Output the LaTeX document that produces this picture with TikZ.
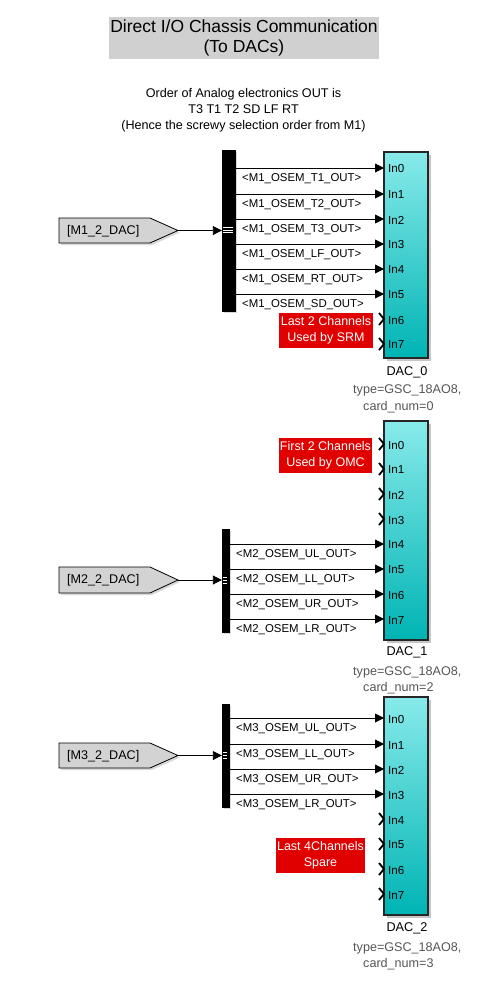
\documentclass[tikz,border=0pt]{standalone}
\usepackage{fontspec}
\setmainfont{Liberation Sans}
\usetikzlibrary{arrows.meta,shadows}
\definecolor{ttlgray}{HTML}{D0D0D0}
\definecolor{fromgray}{HTML}{D3D3D3}
\definecolor{cyantop}{HTML}{88EAEA}
\definecolor{cyanbot}{HTML}{00B4B4}
\definecolor{redbox}{HTML}{E00000}
\definecolor{typegray}{HTML}{555555}
\begin{document}
\begin{tikzpicture}[x=1pt,y=-1pt,
  sig/.style={draw=black, line width=0.9pt, -{Triangle[length=9pt,width=9pt]}},
  dac/.style={draw=black!85, line width=1.1pt, top color=cyantop, bottom color=cyanbot,
    minimum width=44pt, inner sep=0pt, drop shadow={shadow xshift=3pt, shadow yshift=-3pt, opacity=0.45}},
  busbar/.style={fill=black, draw=black, inner sep=0pt, drop shadow={shadow xshift=1.5pt, shadow yshift=-1.5pt, opacity=0.3}},
  fromshape/.style={draw=black, line width=0.8pt, fill=fromgray, drop shadow={shadow xshift=2pt, shadow yshift=-2pt, opacity=0.3}},
  fromtxt/.style={font=\fontsize{12.6}{14}\selectfont, anchor=west, inner sep=0pt},
  sigtxt/.style={font=\fontsize{11.4}{13}\selectfont, anchor=west, inner sep=0pt},
  porttxt/.style={font=\fontsize{11.6}{13}\selectfont, anchor=west, inner sep=0pt},
  redlbl/.style={fill=redbox, text=white, font=\fontsize{12.5}{16}\selectfont, align=center, inner sep=0pt},
  dacname/.style={font=\fontsize{12.7}{14}\selectfont, inner sep=0pt},
  dactype/.style={font=\fontsize{12.6}{14}\selectfont, text=typegray, anchor=west, inner sep=0pt},
  chev/.style={line width=1.8pt, line join=miter},
  wmark/.style={draw=white, line width=1pt}
]
\useasboundingbox (0,0) rectangle (502,994);

% Title
\node[fill=ttlgray, minimum width=270pt, minimum height=42pt, align=center, inner sep=0pt,
  font=\fontsize{17.5}{19.5}\selectfont] (title) at (244,38) {Direct I/O Chassis Communication\\(To DACs)};
\node[align=center, inner sep=0pt, font=\fontsize{12.6}{16.2}\selectfont] (note) at (243.5,110)
  {Order of Analog electronics OUT is\\T3 T1 T2 SD LF RT\\(Hence the screwy selection order from M1)};

% ================= DAC_0 =================
\node[dac, minimum height=206pt] (dac0) at (406,255) {};
\foreach \i/\y in {0/168,1/194,2/219,3/244,4/269,5/294,6/319,7/344}{
  \coordinate (d0p\i) at (384,\y);
  \node[porttxt] (d0l\i) at (388,\y+1) {In\i};
}
\node[dacname] (dac0n) at (407,372) {DAC\_0};
\node[dactype] (dac0t) at (353,390) {type=GSC\_18AO8,};
\node[dactype] (dac0c) at (363,407) {card\_num=0};

\node[busbar, minimum width=13pt, minimum height=161pt] (bus1) at (228.5,230.5) {};
\draw[fromshape] (59,218) -- (150,218) -- (178,230.5) -- (150,243) -- (59,243) -- cycle;
\coordinate (from1) at (178,230.5);
\node[fromtxt] (from1t) at (67,231) {[M1\_2\_DAC]};
\draw[sig] (from1) -- (bus1.west |- from1);
\draw[wmark] (223,227.6) -- (233,227.6) (223,230.2) -- (233,230.2) (223,232.8) -- (233,232.8);

\foreach \i/\t in {0/T1,1/T2,2/T3,3/LF,4/RT,5/SD}{
  \draw[sig] (bus1.east |- d0p\i) -- (d0p\i);
}
\foreach \i/\t/\y in {0/T1/168,1/T2/194,2/T3/219,3/LF/244,4/RT/269,5/SD/294}{
  \node[sigtxt] (s1\i) at (242,\y+11) {<M1\_OSEM\_\t\_OUT>};
}
\foreach \i in {6,7}{
  \draw[chev] ([xshift=-5pt,yshift=6pt]d0p\i) -- (d0p\i) -- ([xshift=-5pt,yshift=-6pt]d0p\i);
}
\node[redlbl, minimum width=94pt, minimum height=35pt] (red1) at (326,330.5) {Last 2 Channels\\Used by SRM};

% ================= DAC_1 =================
\node[dac, minimum height=219pt] (dac1) at (406,530.5) {};
\foreach \i/\y in {0/444,1/469,2/494,3/519,4/544,5/569,6/594,7/619}{
  \coordinate (d1p\i) at (384,\y);
  \node[porttxt] (d1l\i) at (388,\y+1) {In\i};
}
\node[dacname] (dac1n) at (407,652) {DAC\_1};
\node[dactype] (dac1t) at (353,672) {type=GSC\_18AO8,};
\node[dactype] (dac1c) at (363,688) {card\_num=2};

\foreach \i in {0,1,2,3}{
  \draw[chev] ([xshift=-5pt,yshift=6pt]d1p\i) -- (d1p\i) -- ([xshift=-5pt,yshift=-6pt]d1p\i);
}
\node[redlbl, minimum width=93pt, minimum height=35pt] (red2) at (325.5,455.5) {First 2 Channels\\Used by OMC};

\node[busbar, minimum width=7pt, minimum height=103pt] (bus2) at (225.5,580.5) {};
\draw[fromshape] (59,567) -- (150,567) -- (178,580) -- (150,593) -- (59,593) -- cycle;
\coordinate (from2) at (178,580);
\node[fromtxt] (from2t) at (67,580.5) {[M2\_2\_DAC]};
\draw[sig] (from2) -- (bus2.west |- from2);
\draw[wmark] (222.5,577) -- (227,577) (222.5,580) -- (227,580) (222.5,583) -- (227,583);

\foreach \i/\t/\y in {4/UL/544,5/LL/569,6/UR/594,7/LR/619}{
  \draw[sig] (bus2.east |- d1p\i) -- (d1p\i);
  \node[sigtxt] (s2\i) at (236,\y+10.5) {<M2\_OSEM\_\t\_OUT>};
}

% ================= DAC_2 =================
\node[dac, minimum height=218pt] (dac2) at (406,806) {};
\foreach \i/\y in {0/718,1/744,2/769,3/794,4/819,5/844,6/869,7/894}{
  \coordinate (d2p\i) at (384,\y);
  \node[porttxt] (d2l\i) at (388,\y+1) {In\i};
}
\node[dacname] (dac2n) at (407,928) {DAC\_2};
\node[dactype] (dac2t) at (353,948) {type=GSC\_18AO8,};
\node[dactype] (dac2c) at (363,964) {card\_num=3};

\node[busbar, minimum width=7pt, minimum height=103pt] (bus3) at (225.5,755.5) {};
\draw[fromshape] (59,743) -- (150,743) -- (178,755.5) -- (150,768) -- (59,768) -- cycle;
\coordinate (from3) at (178,755.5);
\node[fromtxt] (from3t) at (67,756) {[M3\_2\_DAC]};
\draw[sig] (from3) -- (bus3.west |- from3);
\draw[wmark] (222.5,752.5) -- (227,752.5) (222.5,755.5) -- (227,755.5) (222.5,758.5) -- (227,758.5);

\foreach \i/\t/\y in {0/UL/718,1/LL/744,2/UR/769,3/LR/794}{
  \draw[sig] (bus3.east |- d2p\i) -- (d2p\i);
  \node[sigtxt] (s3\i) at (236,\y+11) {<M3\_OSEM\_\t\_OUT>};
}
\foreach \i in {4,5,6,7}{
  \draw[chev] ([xshift=-5pt,yshift=6pt]d2p\i) -- (d2p\i) -- ([xshift=-5pt,yshift=-6pt]d2p\i);
}
\node[redlbl, minimum width=89pt, minimum height=35pt] (red3) at (320.5,855.5) {Last 4Channels\\Spare};

\end{tikzpicture}
\end{document}
